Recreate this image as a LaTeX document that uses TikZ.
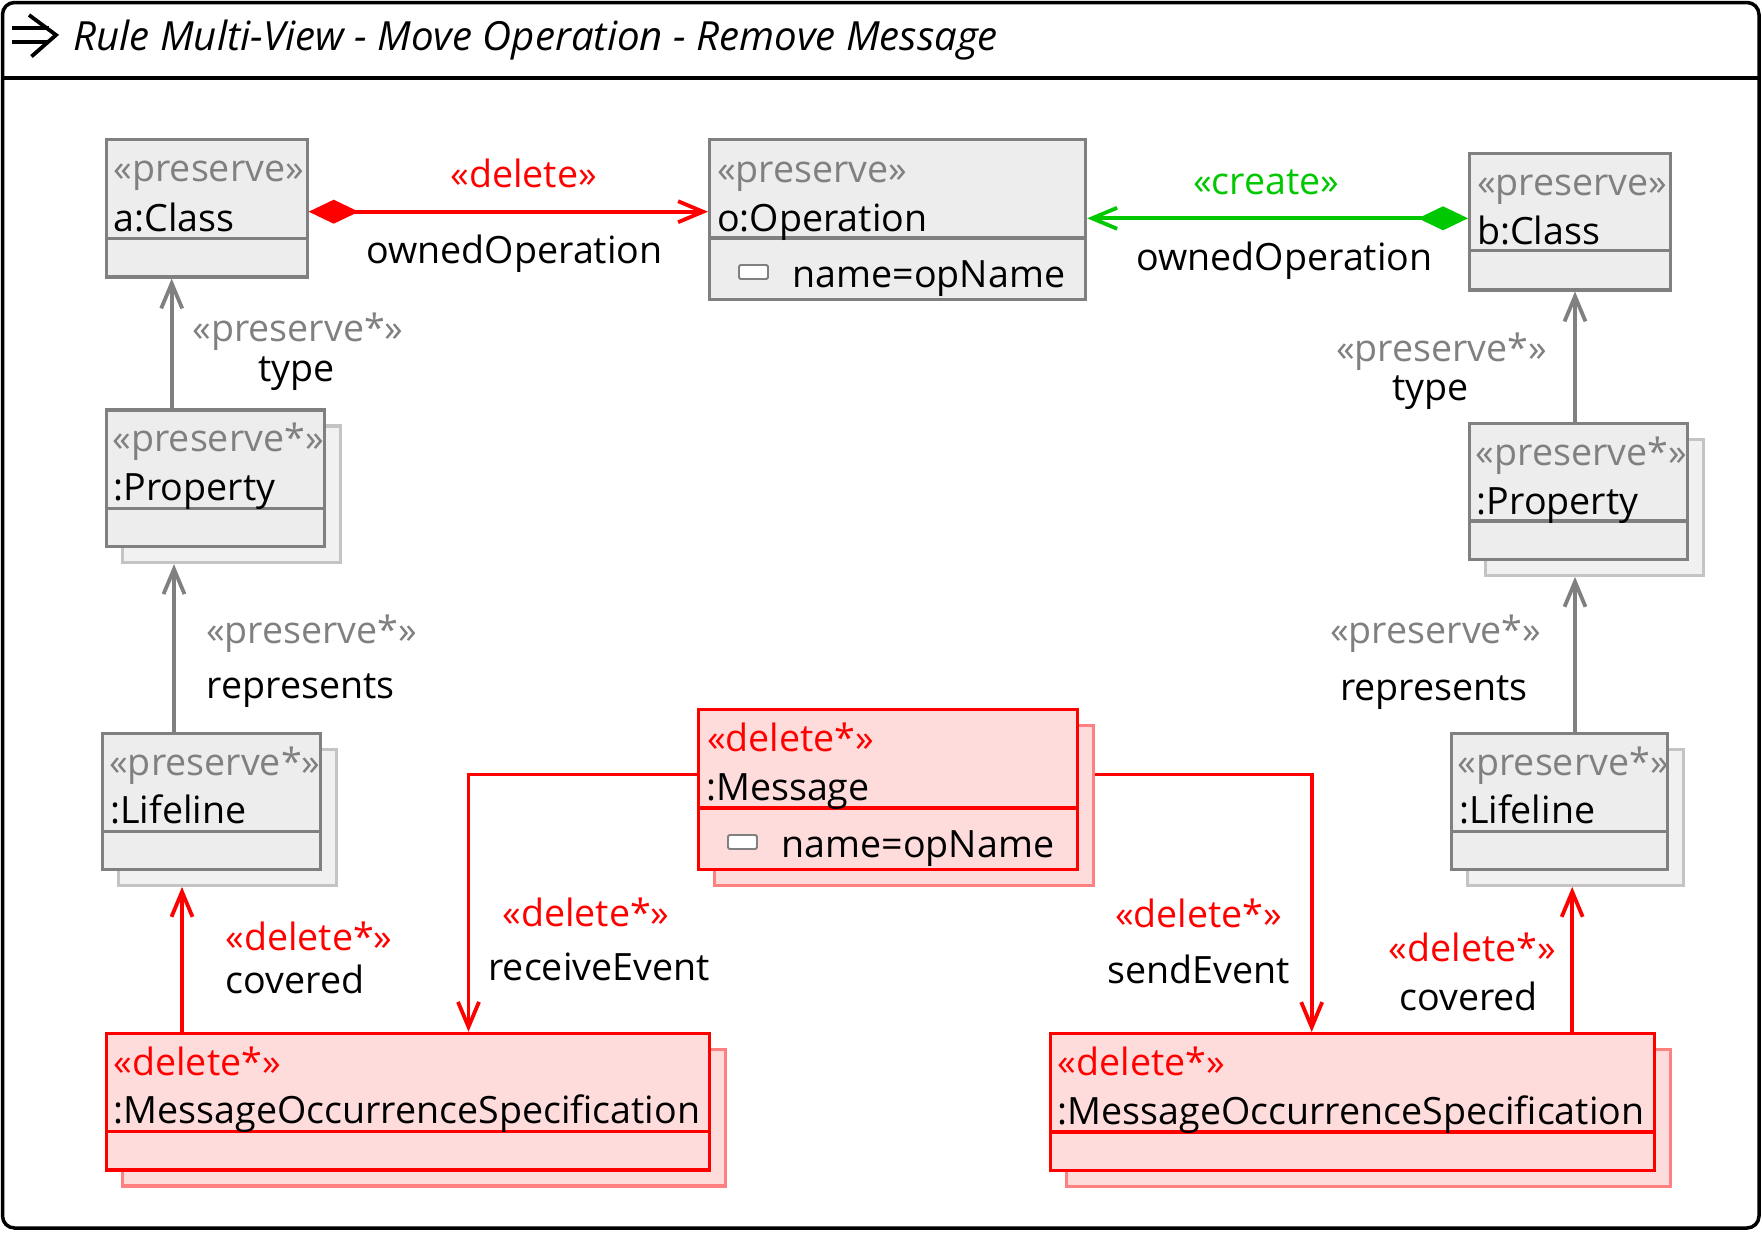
\documentclass[tikz,border=0pt]{standalone}
\usepackage{fontspec}
\setmainfont{Open Sans}
\usepackage[dvipsnames]{xcolor}
\usepackage{tikz}
\usetikzlibrary{arrows.meta}

\definecolor{umlgray}{RGB}{128,128,128}
\definecolor{umlfill}{RGB}{237,237,237}
\definecolor{ghostgray}{RGB}{196,196,196}
\definecolor{ghostfill}{RGB}{241,241,241}
\definecolor{delred}{RGB}{255,0,0}
\definecolor{delfill}{RGB}{255,220,220}
\definecolor{delghost}{RGB}{255,128,128}
\definecolor{creategreen}{RGB}{0,200,0}

\begin{document}
\begin{tikzpicture}[x=1pt, y=-1pt, line width=3.2pt,
    font=\fontsize{37.6}{45}\selectfont,
    keepbox/.style={rectangle, draw=umlgray, fill=umlfill, inner sep=0pt, anchor=north west},
    keepghost/.style={rectangle, draw=ghostgray, fill=ghostfill, inner sep=0pt, anchor=north west},
    delbox/.style={rectangle, draw=delred, fill=delfill, inner sep=0pt, anchor=north west},
    redghost/.style={rectangle, draw=delghost, fill=delfill, inner sep=0pt, anchor=north west},
    keeptag/.style={anchor=base west, inner sep=0pt, text=umlgray},
    deltag/.style={anchor=base west, inner sep=0pt, text=delred},
    objname/.style={anchor=base west, inner sep=0pt},
    elabel/.style={anchor=base, inner sep=0pt},
    keepline/.style={draw=umlgray},
    delline/.style={draw=delred},
    keepedge/.style={draw=umlgray, line width=3.8pt},
    deledge/.style={draw=delred, line width=3.8pt},
    createedge/.style={draw=creategreen, line width=3.8pt},
    opentip/.style={-{Straight Barb[length=25pt,width=21pt]}},
    owntip/.style={{Diamond[length=50pt,width=24pt]}-{Straight Barb[length=25pt,width=21pt]}}]

    \useasboundingbox (0,0) rectangle (1762,1232);

    % draw outer frame and title
    \draw[line width=3.5pt, rounded corners=12pt] (2.5,2.5) rectangle (1759,1228);
    \draw[line width=3.5pt] (2.5,78) -- (1759,78);
    \draw[line width=3.8pt] (11.5,28) -- (49,28);
    \draw[line width=3.8pt] (11.5,42) -- (49,42);
    \draw[line width=3.8pt] (29,15) -- (56,35) -- (31.5,56.5);
    \node[anchor=base west, inner sep=0pt, font=\fontsize{40.2}{48}\selectfont\itshape] (title) at (72,50.7) {Rule Multi-View - Move Operation - Remove Message};

    % draw a:Class
    \node[keepbox, minimum width=201pt, minimum height=137.6pt] (aclass) at (104.5,137.7) {};
    \draw[keepline] ([yshift=-100.6pt]aclass.north west) -- ([yshift=-100.6pt]aclass.north east);
    \node[keeptag] (aclass-st) at ([xshift=7.5pt,yshift=-44pt]aclass.north west) {«preserve»};
    \node[objname] (aclass-nm) at ([xshift=7.5pt,yshift=-93.3pt]aclass.north west) {a:Class};

    % draw o:Operation
    \node[keepbox, minimum width=376pt, minimum height=160pt] (oop) at (708,138) {};
    \draw[keepline] ([yshift=-100pt]oop.north west) -- ([yshift=-100pt]oop.north east);
    \node[keeptag] (oop-st) at ([xshift=7.5pt,yshift=-44pt]oop.north west) {«preserve»};
    \node[objname] (oop-nm) at ([xshift=7.5pt,yshift=-93pt]oop.north west) {o:Operation};
    \draw[umlgray, fill=white, line width=1.8pt, rounded corners=1.5pt] ([xshift=31pt,yshift=-127pt]oop.north west) rectangle ++(29,14);
    \node[objname] (oop-at) at ([xshift=83pt,yshift=-149pt]oop.north west) {name=opName};

    % draw b:Class
    \node[keepbox, minimum width=201pt, minimum height=136.6pt] (bclass) at (1468,151.7) {};
    \draw[keepline] ([yshift=-99pt]bclass.north west) -- ([yshift=-99pt]bclass.north east);
    \node[keeptag] (bclass-st) at ([xshift=7.5pt,yshift=-44pt]bclass.north west) {«preserve»};
    \node[objname] (bclass-nm) at ([xshift=7.5pt,yshift=-93pt]bclass.north west) {b:Class};

    % draw left :Property
    \node[keepghost, minimum width=218pt, minimum height=136.7pt] (propL-sh) at (120.5,424.3) {};
    \node[keepbox, minimum width=218pt, minimum height=136.7pt] (propL) at (104.5,408.3) {};
    \draw[keepline] ([yshift=-100pt]propL.north west) -- ([yshift=-100pt]propL.north east);
    \node[keeptag] (propL-st) at ([xshift=6.5pt,yshift=-43.5pt]propL.north west) {«preserve*»};
    \node[objname] (propL-nm) at ([xshift=7.5pt,yshift=-92pt]propL.north west) {:Property};

    % draw right :Property
    \node[keepghost, minimum width=218pt, minimum height=135.7pt] (propR-sh) at (1483.7,438) {};
    \node[keepbox, minimum width=218pt, minimum height=135.7pt] (propR) at (1467.7,422) {};
    \draw[keepline] ([yshift=-99pt]propR.north west) -- ([yshift=-99pt]propR.north east);
    \node[keeptag] (propR-st) at ([xshift=6.5pt,yshift=-43.5pt]propR.north west) {«preserve*»};
    \node[objname] (propR-nm) at ([xshift=7.5pt,yshift=-92pt]propR.north west) {:Property};

    % draw left :Lifeline
    \node[keepghost, minimum width=218pt, minimum height=136pt] (lifeL-sh) at (117.2,747.7) {};
    \node[keepbox, minimum width=218pt, minimum height=136pt] (lifeL) at (101.2,731.7) {};
    \draw[keepline] ([yshift=-100pt]lifeL.north west) -- ([yshift=-100pt]lifeL.north east);
    \node[keeptag] (lifeL-st) at ([xshift=6.5pt,yshift=-43.5pt]lifeL.north west) {«preserve*»};
    \node[objname] (lifeL-nm) at ([xshift=7.5pt,yshift=-92pt]lifeL.north west) {:Lifeline};

    % draw right :Lifeline
    \node[keepghost, minimum width=216pt, minimum height=136pt] (lifeR-sh) at (1466,747.7) {};
    \node[keepbox, minimum width=216pt, minimum height=136pt] (lifeR) at (1450,731.7) {};
    \draw[keepline] ([yshift=-100pt]lifeR.north west) -- ([yshift=-100pt]lifeR.north east);
    \node[keeptag] (lifeR-st) at ([xshift=6pt,yshift=-43.5pt]lifeR.north west) {«preserve*»};
    \node[objname] (lifeR-nm) at ([xshift=7.5pt,yshift=-92pt]lifeR.north west) {:Lifeline};

    % draw :Message
    \node[redghost, minimum width=379pt, minimum height=160pt] (msg-sh) at (713,724) {};
    \node[delbox, minimum width=379pt, minimum height=160pt] (msg) at (697,708) {};
    \draw[delline] ([yshift=-100pt]msg.north west) -- ([yshift=-100pt]msg.north east);
    \node[deltag] (msg-st) at ([xshift=8.5pt,yshift=-43.7pt]msg.north west) {«delete*»};
    \node[objname] (msg-nm) at ([xshift=7.5pt,yshift=-92pt]msg.north west) {:Message};
    \draw[umlgray, fill=white, line width=1.8pt, rounded corners=1.5pt] ([xshift=31pt,yshift=-127pt]msg.north west) rectangle ++(29,14);
    \node[objname] (msg-at) at ([xshift=83pt,yshift=-149pt]msg.north west) {name=opName};

    % draw left :MessageOccurrenceSpecification
    \node[redghost, minimum width=603.6pt, minimum height=136.5pt] (mosL-sh) at (120.5,1047.8) {};
    \node[delbox, minimum width=603.6pt, minimum height=136.5pt] (mosL) at (104.5,1031.8) {};
    \draw[delline] ([yshift=-100pt]mosL.north west) -- ([yshift=-100pt]mosL.north east);
    \node[deltag] (mosL-st) at ([xshift=7.5pt,yshift=-43.5pt]mosL.north west) {«delete*»};
    \node[objname] (mosL-nm) at ([xshift=7.5pt,yshift=-92pt]mosL.north west) {:MessageOccurrenceSpecification};

    % draw right :MessageOccurrenceSpecification
    \node[redghost, minimum width=604pt, minimum height=136.5pt] (mosR-sh) at (1064.7,1048) {};
    \node[delbox, minimum width=604pt, minimum height=136.5pt] (mosR) at (1048.7,1032) {};
    \draw[delline] ([yshift=-100pt]mosR.north west) -- ([yshift=-100pt]mosR.north east);
    \node[deltag] (mosR-st) at ([xshift=7.5pt,yshift=-43.5pt]mosR.north west) {«delete*»};
    \node[objname] (mosR-nm) at ([xshift=7.5pt,yshift=-92pt]mosR.north west) {:MessageOccurrenceSpecification};

    % draw ownedOperation links
    \coordinate (ownL) at ([yshift=-74pt]aclass.north east);
    \draw[deledge, owntip] (ownL) -- (ownL -| oop.west);
    \node[elabel, text=delred] (ownL-st) at (523.6,187.3) {«delete»};
    \node[elabel] (ownL-nm) at (514.5,263.3) {ownedOperation};
    \coordinate (ownR) at ([yshift=-66.6pt]bclass.north west);
    \draw[createedge, owntip] (ownR) -- (ownR -| oop.east);
    \node[elabel, text=creategreen] (ownR-st) at (1266.3,194) {«create»};
    \node[elabel] (ownR-nm) at (1284.5,270.7) {ownedOperation};

    % draw type links
    \coordinate (typL) at ([xshift=67.2pt]propL.north west);
    \draw[keepedge, opentip] (typL) -- (typL |- aclass.south);
    \node[elabel, text=umlgray] (typL-st) at (298,341.7) {«preserve*»};
    \node[elabel] (typL-nm) at (296.7,381.7) {type};
    \coordinate (typR) at ([xshift=107.3pt]propR.north west);
    \draw[keepedge, opentip] (typR) -- (typR |- bclass.south);
    \node[elabel, text=umlgray] (typR-st) at (1441.7,361.7) {«preserve*»};
    \node[elabel] (typR-nm) at (1430.8,400) {type};

    % draw represents links
    \coordinate (repL) at ([xshift=72.8pt]lifeL.north west);
    \draw[keepedge, opentip] (repL) -- (repL |- propL-sh.south);
    \node[elabel, text=umlgray] (repL-st) at (311.7,643.3) {«preserve*»};
    \node[elabel] (repL-nm) at (300.8,698) {represents};
    \coordinate (repR) at ([xshift=125pt]lifeR.north west);
    \draw[keepedge, opentip] (repR) -- (repR |- propR-sh.south);
    \node[elabel, text=umlgray] (repR-st) at (1435.8,643.3) {«preserve*»};
    \node[elabel] (repR-nm) at (1434,700) {represents};

    % draw covered links
    \coordinate (covL) at ([xshift=77.5pt]mosL.north west);
    \draw[deledge, opentip] (covL) -- (covL |- lifeL-sh.south);
    \node[elabel, text=delred] (covL-st) at (309,950) {«delete*»};
    \node[elabel] (covL-nm) at (295,993.3) {covered};
    \coordinate (covR) at ([xshift=523.5pt]mosR.north west);
    \draw[deledge, opentip] (covR) -- (covR |- lifeR-sh.south);
    \node[elabel, text=delred] (covR-st) at (1472.6,961.2) {«delete*»};
    \node[elabel] (covR-nm) at (1468.7,1010.4) {covered};

    % draw receiveEvent and sendEvent links
    \coordinate (rcvA) at ([yshift=-66.4pt]msg.north west);
    \coordinate (rcvB) at ([xshift=364pt]mosL.north west);
    \draw[deledge, opentip] (rcvA) -| (rcvB);
    \node[elabel, text=delred] (rcv-st) at (586,926.7) {«delete*»};
    \node[elabel] (rcv-nm) at (599,980.7) {receiveEvent};
    \coordinate (sndA) at ([yshift=-50.4pt]msg-sh.north east);
    \coordinate (sndB) at ([xshift=263pt]mosR.north west);
    \draw[deledge, opentip] (sndA) -| (sndB);
    \node[elabel, text=delred] (snd-st) at (1198.7,927.4) {«delete*»};
    \node[elabel] (snd-nm) at (1198.7,983.6) {sendEvent};

\end{tikzpicture}
\end{document}
